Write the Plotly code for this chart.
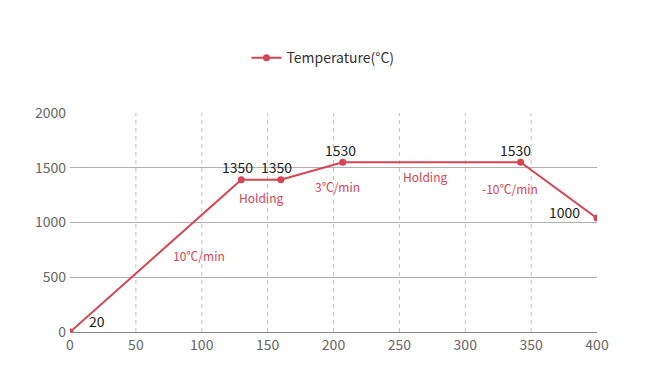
import plotly.graph_objects as go

time_min = [0, 130, 160, 207, 342, 400]
temperature = [0, 1390, 1390, 1550, 1550, 1040]
point_labels = ["20", "1350", "1350", "1530", "1530", "1000"]
label_pos = [(20.5, 100), (126.8, 1507), (157, 1507), (205, 1662), (337.8, 1662), (375.7, 1096)]
rate_texts = ["10℃/min", "Holding", "3℃/min", "Holding", "-10℃/min"]
rate_pos = [(98, 703), (145, 1224), (202.7, 1333), (269.4, 1416), (334, 1306)]

FONT = "Noto Sans CJK SC"
RED = "#d94452"

fig = go.Figure()
fig.add_trace(go.Scatter(
    x=time_min, y=temperature, mode="lines+markers", name="Temperature(°C)",
    line=dict(color=RED, width=2), marker=dict(color=RED, size=7),
))

for t, (x, y) in zip(point_labels, label_pos):
    fig.add_annotation(x=x, y=y, xref="x", yref="y", text=t, showarrow=False,
                       font=dict(family=FONT, size=14, color="#222"))
for t, (x, y) in zip(rate_texts, rate_pos):
    fig.add_annotation(x=x, y=y, xref="x", yref="y", text=t, showarrow=False,
                       font=dict(family=FONT, size=12, color=RED))

for xv in [50, 100, 150, 200, 250, 300, 350]:
    fig.add_shape(type="line", x0=xv, x1=xv, y0=0, y1=2000, xref="x", yref="y",
                  line=dict(color="#c4c4c4", width=1, dash="4px,4px"), layer="below")

fig.update_layout(
    width=650, height=391,
    margin=dict(l=62, r=61, t=105, b=67, autoexpand=False),
    plot_bgcolor="white", paper_bgcolor="white",
    font=dict(family=FONT, color="#666"),
    showlegend=True,
    legend=dict(orientation="h", x=0.48, xanchor="center", y=0.872, yref="container",
                yanchor="middle", font=dict(family=FONT, size=14, color="#333"),
                bgcolor="rgba(0,0,0,0)"),
)
fig.update_xaxes(range=[0, 400], tickvals=[0, 50, 100, 150, 200, 250, 300, 350, 400],
                 showgrid=False, zeroline=False, showline=True, linecolor="#888", linewidth=1,
                 ticks="", tickfont=dict(size=14, color="#666"), automargin=False)
fig.update_yaxes(range=[0, 2000], tickvals=[0, 500, 1000, 1500, 2000],
                 showgrid=True, gridcolor="#b0b0b0", gridwidth=1, zeroline=False,
                 showline=False, ticks="", tickfont=dict(size=14, color="#666"),
                 ticklabelstandoff=3, automargin=False)

fig.write_html("out.html")
